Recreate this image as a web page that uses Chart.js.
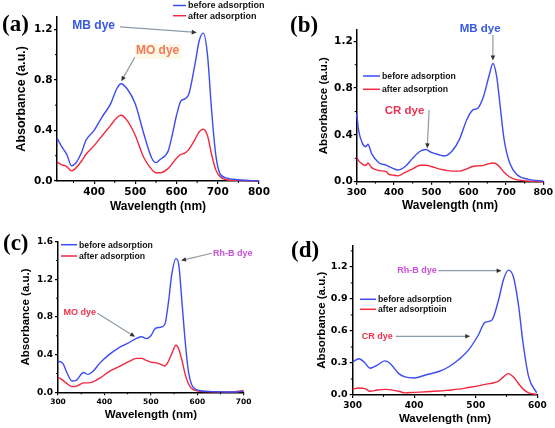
<!DOCTYPE html>
<html>
<head>
<meta charset="utf-8">
<script src="https://cdn.jsdelivr.net/npm/chart.js@4.4.0/dist/chart.umd.min.js"></script>
<style>
  html, body { margin: 0; padding: 0; background: #fff; width: 555px; height: 428px; overflow: hidden; position: relative; }
  canvas { position: absolute; left: 0; top: 0; }
</style>
</head>
<body>
<canvas id="chartA" width="600" height="460"></canvas>
<canvas id="chartB" width="600" height="460"></canvas>
<canvas id="chartC" width="600" height="460"></canvas>
<canvas id="chartD" width="600" height="460"></canvas>
<script>
// (a) MB + MO
const aWavelength = [310, 320, 330, 335, 345, 355, 370, 380, 400, 420, 440, 455, 465, 480, 500, 520, 540, 550, 560, 580, 590, 600, 610, 620, 630, 645, 655, 665, 675, 685, 695, 705, 720, 750, 800];
const aBefore = [0.34, 0.28, 0.23, 0.20, 0.12, 0.14, 0.23, 0.32, 0.40, 0.51, 0.61, 0.73, 0.77, 0.73, 0.61, 0.38, 0.18, 0.145, 0.17, 0.24, 0.37, 0.52, 0.63, 0.65, 0.69, 0.93, 1.11, 1.17, 1.00, 0.56, 0.21, 0.06, 0.025, 0.01, 0.0];
const aAfter = [0.15, 0.13, 0.12, 0.11, 0.08, 0.10, 0.16, 0.21, 0.28, 0.36, 0.44, 0.50, 0.52, 0.48, 0.36, 0.19, 0.09, 0.065, 0.065, 0.10, 0.14, 0.18, 0.21, 0.22, 0.25, 0.33, 0.39, 0.41, 0.36, 0.21, 0.09, 0.035, 0.01, 0.005, 0.0];
const aXTicks = [400, 500, 600, 700, 800];
const aYTicks = [0.0, 0.4, 0.8, 1.2];

// (b) MB + CR
const bWavelength = [300, 305, 315, 325, 330, 340, 360, 380, 385, 400, 410, 430, 450, 470, 485, 500, 520, 535, 555, 575, 595, 610, 625, 640, 655, 665, 675, 685, 695, 710, 730, 760, 800];
const bBefore = [0.58, 0.44, 0.33, 0.30, 0.32, 0.24, 0.16, 0.14, 0.13, 0.11, 0.10, 0.13, 0.20, 0.26, 0.275, 0.25, 0.23, 0.22, 0.26, 0.36, 0.53, 0.61, 0.63, 0.73, 0.91, 1.01, 0.90, 0.63, 0.36, 0.16, 0.06, 0.02, 0.005];
const bAfter = [0.205, 0.18, 0.15, 0.14, 0.16, 0.12, 0.095, 0.085, 0.065, 0.055, 0.05, 0.08, 0.11, 0.14, 0.14, 0.13, 0.11, 0.10, 0.09, 0.09, 0.11, 0.13, 0.135, 0.14, 0.155, 0.16, 0.15, 0.12, 0.08, 0.04, 0.015, 0.005, 0.0];
const bXTicks = [300, 400, 500, 600, 700, 800];
const bYTicks = [0.0, 0.4, 0.8, 1.2];

// (c) Rh-B + MO
const cWavelength = [300, 310, 320, 330, 340, 355, 365, 375, 390, 410, 430, 450, 470, 480, 490, 500, 510, 520, 530, 538, 545, 554, 560, 567, 574, 581, 588, 599, 620, 650, 680, 700];
const cBefore = [0.33, 0.31, 0.20, 0.12, 0.13, 0.21, 0.19, 0.22, 0.31, 0.40, 0.47, 0.52, 0.575, 0.59, 0.57, 0.60, 0.68, 0.69, 0.72, 0.96, 1.25, 1.42, 1.36, 0.96, 0.54, 0.22, 0.08, 0.025, 0.01, 0.005, 0.003, 0.01];
const cAfter = [0.16, 0.13, 0.09, 0.06, 0.065, 0.10, 0.10, 0.11, 0.15, 0.22, 0.27, 0.32, 0.36, 0.36, 0.34, 0.32, 0.315, 0.30, 0.28, 0.33, 0.41, 0.50, 0.46, 0.34, 0.19, 0.09, 0.04, 0.015, 0.008, 0.005, 0.005, 0.02];
const cXTicks = [300, 400, 500, 600, 700];
const cYTicks = [0.0, 0.4, 0.8, 1.2, 1.6];

// (d) Rh-B + CR
const dWavelength = [300, 310, 320, 328, 340, 352, 360, 375, 385, 400, 420, 440, 455, 472, 488, 504, 515, 526, 537, 545, 553, 561, 569, 577, 586, 599];
const dBefore = [0.31, 0.34, 0.30, 0.25, 0.28, 0.32, 0.30, 0.20, 0.17, 0.16, 0.19, 0.22, 0.26, 0.33, 0.42, 0.56, 0.68, 0.70, 0.89, 1.08, 1.17, 1.11, 0.86, 0.48, 0.17, 0.02];
const dAfter = [0.056, 0.066, 0.06, 0.035, 0.047, 0.053, 0.05, 0.035, 0.02, 0.025, 0.03, 0.037, 0.045, 0.055, 0.07, 0.085, 0.10, 0.11, 0.13, 0.17, 0.20, 0.17, 0.11, 0.055, 0.02, 0.006];
const dXTicks = [300, 400, 500, 600];
const dYTicks = [0.0, 0.3, 0.6, 0.9, 1.2];

const BLUE = '#3b4cf0';
const RED = '#f2283f';
const SANS = 'Liberation Sans';
const TICKFONT = 'DejaVu Sans';

function pairs(xs, ys) {
  return xs.map((x, i) => ({ x: x, y: ys[i] }));
}

// letters, legend, dye notes, arrows and minor ticks
function decorPlugin(cfg) {
  return {
    id: 'decor',
    afterDraw(chart) {
      const ctx = chart.ctx;
      const xs = chart.scales.x, ys = chart.scales.y;
      const px = p => [xs.getPixelForValue(p[0]), ys.getPixelForValue(p[1])];
      ctx.save();

      // minor ticks
      ctx.strokeStyle = '#000';
      ctx.lineWidth = 1;
      const area = chart.chartArea;
      const minor = (ticks, min, max) => {
        const step = ticks[1] - ticks[0];
        const out = [];
        for (let v = ticks[0] - step / 2; v <= max + 1e-9; v += step) {
          if (v >= min - 1e-9) out.push(v);
        }
        return out;
      };
      minor(cfg.x.ticks, cfg.x.min, cfg.x.max).forEach(v => {
        const x = xs.getPixelForValue(v);
        ctx.beginPath(); ctx.moveTo(x, area.bottom); ctx.lineTo(x, area.bottom + 2); ctx.stroke();
      });
      minor(cfg.y.ticks, cfg.y.min, cfg.y.max).forEach(v => {
        const y = ys.getPixelForValue(v);
        ctx.beginPath(); ctx.moveTo(area.left, y); ctx.lineTo(area.left - 2, y); ctx.stroke();
      });

      // panel letter
      ctx.fillStyle = '#000';
      ctx.font = 'bold 23px "Liberation Serif"';
      ctx.textAlign = 'left';
      ctx.textBaseline = 'alphabetic';
      ctx.fillText(cfg.letter.text, cfg.letter.x, cfg.letter.y);

      // legend
      const lg = cfg.legend;
      ctx.font = 'bold ' + lg.size + 'px "' + SANS + '"';
      ctx.textBaseline = 'middle';
      chart.data.datasets.forEach((ds, i) => {
        const y = lg.y + i * lg.gap;
        ctx.strokeStyle = ds.borderColor;
        ctx.lineWidth = 1.5;
        ctx.beginPath(); ctx.moveTo(lg.x, y); ctx.lineTo(lg.x + lg.len, y); ctx.stroke();
        ctx.fillStyle = '#111';
        ctx.fillText(ds.label, lg.x + lg.len + 2, y + 0.5);
      });

      // arrows
      cfg.arrows.forEach(a => {
        const [x1, y1] = px(a.from), [x2, y2] = px(a.to);
        const ang = Math.atan2(y2 - y1, x2 - x1);
        ctx.strokeStyle = '#8d9ba8';
        ctx.lineWidth = 1.2;
        ctx.beginPath(); ctx.moveTo(x1, y1);
        ctx.lineTo(x2 - 4 * Math.cos(ang), y2 - 4 * Math.sin(ang)); ctx.stroke();
        ctx.fillStyle = '#333';
        ctx.beginPath();
        ctx.moveTo(x2, y2);
        ctx.lineTo(x2 - 5 * Math.cos(ang) + 2.3 * Math.sin(ang), y2 - 5 * Math.sin(ang) - 2.3 * Math.cos(ang));
        ctx.lineTo(x2 - 5 * Math.cos(ang) - 2.3 * Math.sin(ang), y2 - 5 * Math.sin(ang) + 2.3 * Math.cos(ang));
        ctx.closePath(); ctx.fill();
      });

      // dye notes
      cfg.notes.forEach(n => {
        const [x, y] = px(n.at);
        ctx.font = 'bold ' + n.size + 'px "' + SANS + '"';
        ctx.textAlign = n.align || 'center';
        ctx.textBaseline = 'middle';
        if (n.bg) {
          const w = ctx.measureText(n.text).width;
          ctx.fillStyle = n.bg;
          ctx.fillRect(x - w / 2 - 1, y - n.size * 0.6, w + 3, n.size * 1.3);
        }
        ctx.fillStyle = n.color;
        ctx.fillText(n.text, x, y);
      });
      ctx.restore();
    }
  };
}

function makeAxis(ax, horizontal, title, titleSize, titlePad, tickSize, tickPad) {
  return {
    type: 'linear',
    min: ax.min,
    max: ax.max,
    border: { display: true, color: '#000', width: 1.5 },
    grid: { display: true, drawOnChartArea: false, drawTicks: true, tickLength: 3, color: '#000', lineWidth: 1.2 },
    ticks: {
      color: '#000',
      padding: tickPad,
      font: { family: TICKFONT, weight: 'bold', size: tickSize },
      callback: v => horizontal ? String(v) : v.toFixed(1)
    },
    afterBuildTicks: s => { s.ticks = ax.ticks.map(v => ({ value: v })); },
    afterFit: s => { if (horizontal) s.height = 34; else s.width = 44; },
    title: {
      display: true,
      text: title,
      color: '#000',
      font: { family: SANS, weight: 'bold', size: titleSize },
      padding: horizontal ? { top: 0, bottom: titlePad } : { top: titlePad, bottom: 0 }
    }
  };
}

function makeChart(cfg) {
  const ctx = document.getElementById(cfg.id).getContext('2d');
  return new Chart(ctx, {
    type: 'line',
    data: {
      datasets: [
        { label: cfg.labels[0], data: pairs(cfg.wl, cfg.before), borderColor: BLUE },
        { label: cfg.labels[1], data: pairs(cfg.wl, cfg.after), borderColor: RED }
      ]
    },
    options: {
      responsive: false,
      animation: false,
      devicePixelRatio: 1,
      layout: { padding: cfg.padding },
      elements: {
        point: { radius: 0 },
        line: { borderWidth: 1.4, cubicInterpolationMode: 'monotone', fill: false }
      },
      datasets: { line: { clip: false } },
      plugins: { legend: { display: false }, tooltip: { enabled: false } },
      scales: {
        x: makeAxis(cfg.x, true, 'Wavelength (nm)', cfg.xTitle.size, cfg.xTitle.pad, cfg.x.size, cfg.x.pad),
        y: makeAxis(cfg.y, false, 'Absorbance (a.u.)', cfg.yTitle.size, cfg.yTitle.pad, cfg.y.size, cfg.y.pad)
      }
    },
    plugins: [decorPlugin(cfg)]
  });
}

window.addEventListener('DOMContentLoaded', () => {
  makeChart({
    id: 'chartA', wl: aWavelength, before: aBefore, after: aAfter,
    labels: ['before adsorption', 'after adsorption'],
    x: { min: 310, max: 800, ticks: aXTicks, size: 10.5, pad: 2 },
    y: { min: 0, max: 1.3, ticks: aYTicks, size: 10.5, pad: 1.5 },
    padding: { left: 13, top: 16.7, right: 341, bottom: 245 },
    xTitle: { size: 12, pad: 0.8 }, yTitle: { size: 12.5, pad: 1.2 },
    letter: { text: '(a)', x: 2, y: 31 },
    legend: { x: 173, y: 5.5, len: 13, gap: 10.2, size: 9 },
    notes: [
      { text: 'MB dye', at: [399, 1.225], color: '#3558e6', size: 12 },
      { text: 'MO dye', at: [554, 1.03], color: '#f4785a', size: 12, bg: '#fcf8e6' }
    ],
    arrows: [
      { from: [463, 1.22], to: [649, 1.175] },
      { from: [499, 0.98], to: [466, 0.79] }
    ]
  });

  makeChart({
    id: 'chartB', wl: bWavelength, before: bBefore, after: bAfter,
    labels: ['before adsorption', 'after adsorption'],
    x: { min: 300, max: 800, ticks: bXTicks, size: 9.5, pad: 2 },
    y: { min: 0, max: 1.3, ticks: bYTicks, size: 10.5, pad: 1 },
    padding: { left: 312.7, top: 29.6, right: 56.7, bottom: 244.3 },
    xTitle: { size: 12, pad: 2.5 }, yTitle: { size: 11.5, pad: 4.4 },
    letter: { text: '(b)', x: 290, y: 32 },
    legend: { x: 363, y: 76, len: 17, gap: 13.3, size: 8.7 },
    notes: [
      { text: 'MB dye', at: [630.6, 1.31], color: '#3558e6', size: 11.5 },
      { text: 'CR dye', at: [428, 0.61], color: '#ec3250', size: 11.5 }
    ],
    arrows: [
      { from: [665, 1.254], to: [665, 1.036] },
      { from: [494, 0.613], to: [489, 0.285] }
    ]
  });

  makeChart({
    id: 'chartC', wl: cWavelength, before: cBefore, after: cAfter,
    labels: ['before adsorption', 'after adsorption'],
    x: { min: 300, max: 700, ticks: cXTicks, size: 7.5, pad: 2 },
    y: { min: 0, max: 1.6, ticks: cYTicks, size: 9, pad: 2 },
    padding: { left: 14, top: 241.7, right: 356.3, bottom: 33.7 },
    xTitle: { size: 11.5, pad: 4.4 }, yTitle: { size: 11.5, pad: 5.1 },
    letter: { text: '(c)', x: 3, y: 250 },
    legend: { x: 61, y: 244.7, len: 16, gap: 11.3, size: 8.7 },
    notes: [
      { text: 'Rh-B dye', at: [634, 1.475], color: '#c850d8', size: 9, align: 'left' },
      { text: 'MO dye', at: [347, 0.843], color: '#ec3250', size: 9 }
    ],
    arrows: [
      { from: [631, 1.477], to: [565, 1.40] },
      { from: [385, 0.84], to: [466, 0.59] }
    ]
  });

  makeChart({
    id: 'chartD', wl: dWavelength, before: dBefore, after: dAfter,
    labels: ['before adsorption', 'after adsorptioin'],
    x: { min: 300, max: 600, ticks: dXTicks, size: 9, pad: 2 },
    y: { min: 0, max: 1.4, ticks: dYTicks, size: 9.5, pad: 2 },
    padding: { left: 308.7, top: 245.6, right: 62.7, bottom: 31 },
    xTitle: { size: 11.5, pad: 3.1 }, yTitle: { size: 11.5, pad: 6.4 },
    letter: { text: '(d)', x: 291, y: 256.7 },
    legend: { x: 360, y: 299.3, len: 16, gap: 10, size: 8.7 },
    notes: [
      { text: 'Rh-B dye', at: [404.6, 1.162], color: '#c850d8', size: 9 },
      { text: 'CR dye', at: [340, 0.548], color: '#ec3250', size: 9 }
    ],
    arrows: [
      { from: [439, 1.165], to: [542, 1.165] },
      { from: [370, 0.55], to: [491, 0.55] }
    ]
  });
});
</script>
</body>
</html>
